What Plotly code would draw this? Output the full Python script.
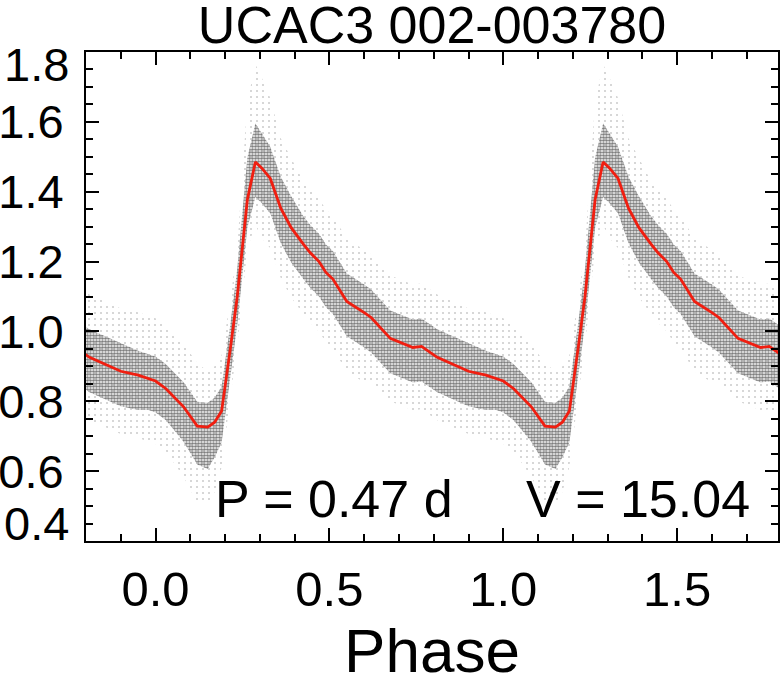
import numpy as np
import plotly.graph_objects as go

# model light curve over one cycle (phase, normalised flux)
model_phase = [0.00, 0.03, 0.08, 0.12, 0.15, 0.17, 0.19, 0.215, 0.235, 0.264, 0.287,
               0.305, 0.33, 0.36, 0.39, 0.425, 0.445, 0.47, 0.49, 0.51, 0.55, 0.60,
               0.62, 0.675, 0.74, 0.765, 0.81, 0.855, 0.90, 0.95, 0.98, 1.00]
model_flux = [0.858, 0.836, 0.785, 0.729, 0.726, 0.740, 0.772, 0.95, 1.10, 1.377, 1.485,
              1.468, 1.438, 1.353, 1.297, 1.25, 1.225, 1.20, 1.169, 1.150, 1.086, 1.054,
              1.040, 0.98, 0.954, 0.957, 0.926, 0.906, 0.886, 0.875, 0.865, 0.858]

# spread of the observed points around the model (dense core and sparse halo)
core_up = [0.07, 0.07, 0.07, 0.07, 0.07, 0.07, 0.07, 0.07, 0.08, 0.12, 0.11,
           0.10, 0.09, 0.09, 0.09, 0.08, 0.08, 0.08, 0.08, 0.08, 0.08, 0.08,
           0.08, 0.08, 0.08, 0.08, 0.08, 0.08, 0.08, 0.07, 0.07, 0.07]
core_dn = [0.09, 0.09, 0.10, 0.11, 0.12, 0.10, 0.09, 0.08, 0.08, 0.08, 0.10,
           0.10, 0.10, 0.10, 0.10, 0.10, 0.10, 0.10, 0.10, 0.10, 0.10, 0.10,
           0.10, 0.10, 0.10, 0.10, 0.10, 0.10, 0.10, 0.10, 0.09, 0.09]
halo_up = [0.18, 0.18, 0.18, 0.18, 0.16, 0.16, 0.16, 0.14, 0.14, 0.28, 0.28,
           0.26, 0.23, 0.20, 0.20, 0.18, 0.18, 0.18, 0.18, 0.18, 0.18, 0.18,
           0.18, 0.18, 0.18, 0.18, 0.18, 0.18, 0.18, 0.18, 0.18, 0.18]
halo_dn = [0.18, 0.18, 0.20, 0.22, 0.22, 0.20, 0.16, 0.14, 0.14, 0.14, 0.18,
           0.20, 0.20, 0.20, 0.20, 0.20, 0.20, 0.20, 0.20, 0.20, 0.20, 0.20,
           0.18, 0.18, 0.18, 0.18, 0.18, 0.18, 0.18, 0.18, 0.18, 0.18]

title = "UCAC3 002-003780"
period_text = "P = 0.47 d"
vmag_text = "V = 15.04"

FONT = "Liberation Sans, Arial, Helvetica, sans-serif"

# repeat the cycle so it covers the plotted phase range
def tile(vals, shift=False):
    out = []
    for k in (-1, 0, 1):
        part = vals[:-1]
        out += [v + k for v in part] if shift else list(part)
    out.append(vals[-1] + 1 if shift else vals[-1])
    return np.array(out)

ph = tile(model_phase, shift=True)
fl = tile(model_flux)
cu, cd = tile(core_up), tile(core_dn)
hu, hd = tile(halo_up), tile(halo_dn)

fig = go.Figure()

# sparse halo of points
fig.add_trace(go.Scatter(x=ph, y=fl - hd, mode="lines", line=dict(width=0),
                         showlegend=False, hoverinfo="skip"))
fig.add_trace(go.Scatter(x=ph, y=fl + hu, mode="lines", line=dict(width=0),
                         fill="tonexty", fillcolor="rgba(0,0,0,0)",
                         fillpattern=dict(shape=".", fgcolor="#333333", size=6,
                                          solidity=0.05, fillmode="overlay"),
                         showlegend=False, hoverinfo="skip"))
# dense core of points
fig.add_trace(go.Scatter(x=ph, y=fl - cd, mode="lines", line=dict(width=0),
                         showlegend=False, hoverinfo="skip"))
fig.add_trace(go.Scatter(x=ph, y=fl + cu, mode="lines", line=dict(width=0),
                         fill="tonexty", fillcolor="rgba(0,0,0,0)",
                         fillpattern=dict(shape=".", fgcolor="black", size=3,
                                          solidity=0.62, fillmode="overlay"),
                         showlegend=False, hoverinfo="skip"))
# model
fig.add_trace(go.Scatter(x=ph, y=fl, mode="lines",
                         line=dict(color="#f01e10", width=2.8),
                         showlegend=False, hoverinfo="skip"))

axis_common = dict(showline=True, linecolor="black", linewidth=2, mirror="allticks",
                   ticks="inside", ticklen=13, tickwidth=2, tickcolor="black",
                   showgrid=False, zeroline=False, automargin=False)

fig.update_xaxes(range=[-0.2, 1.79], tickmode="linear", tick0=0, dtick=0.5,
                 tickformat=".1f", ticklabelstandoff=4,
                 tickfont=dict(family=FONT, size=49, color="black"),
                 minor=dict(tickmode="linear", tick0=0, dtick=0.1, ticklen=7,
                            tickwidth=2, tickcolor="black", ticks="inside"),
                 title=dict(text="Phase", font=dict(family=FONT, size=62, color="black"),
                            standoff=25),
                 **axis_common)
fig.update_yaxes(range=[0.4, 1.8], tickmode="array",
                 tickvals=[0.6, 0.8, 1.0, 1.2, 1.4, 1.6],
                 ticktext=["0.6", "0.8", "1.0", "1.2", "1.4", "1.6"],
                 ticklabelstandoff=11,
                 tickfont=dict(family=FONT, size=47, color="black"),
                 minor=dict(tickmode="linear", tick0=0, dtick=0.05, ticklen=7,
                            tickwidth=2, tickcolor="black", ticks="inside"),
                 **axis_common)

# end labels of the y axis sit inside the frame
for val, shift in ((1.8, -12), (0.4, 18)):
    fig.add_annotation(x=0, xref="paper", y=val, yref="y", text=f"{val:.1f}",
                       showarrow=False, xanchor="right", yanchor="middle",
                       xshift=-15, yshift=shift,
                       font=dict(family=FONT, size=47, color="black"))

fig.add_annotation(x=0.164, y=0.52, text=period_text, showarrow=False,
                   xanchor="left", yanchor="middle",
                   font=dict(family=FONT, size=52, color="black"))
fig.add_annotation(x=1.716, y=0.52, text=vmag_text, showarrow=False,
                   xanchor="right", yanchor="middle",
                   font=dict(family=FONT, size=52, color="black"))

fig.update_layout(
    width=780, height=685,
    margin=dict(l=86, r=2, t=52, b=144),
    paper_bgcolor="white", plot_bgcolor="white",
    title=dict(text=title, x=0.5, xref="paper", y=0.964, yanchor="middle",
               automargin=False,
               font=dict(family=FONT, size=52, color="black")),
)

# drop the default page margin so the figure sits at the window's corner
fig.write_html("out.html", config={"displayModeBar": False},
               post_script="document.body.style.margin='0px';")
